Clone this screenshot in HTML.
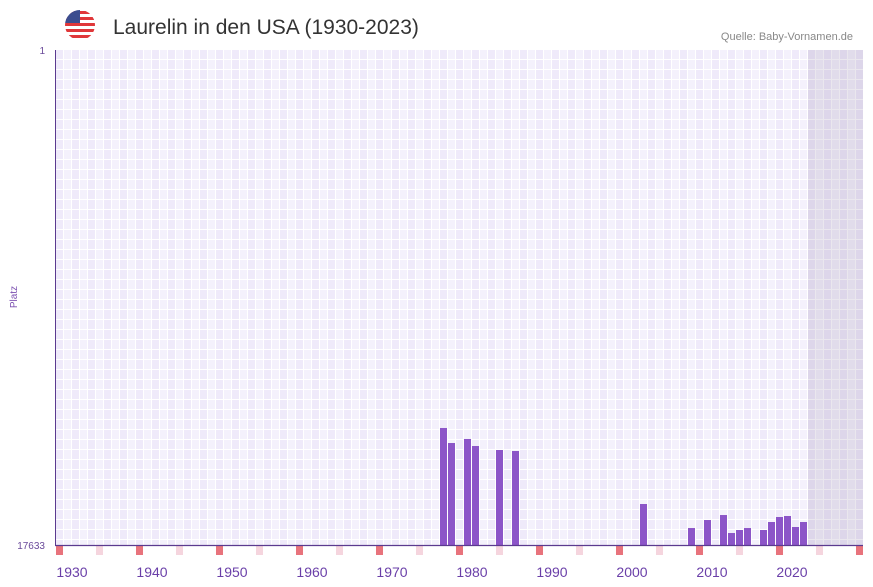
<!DOCTYPE html>
<html><head><meta charset="utf-8"><style>
body{margin:0;background:#fff;font-family:"Liberation Sans",sans-serif;}
svg{display:block}
</style></head><body>
<svg id="c" width="873" height="587">
<defs>
<pattern id="grid" x="56" y="50" width="16" height="10" patternUnits="userSpaceOnUse">
<rect width="16" height="10" fill="#fff"/>
<rect x="0" y="0" width="7" height="9" fill="#efeafa"/>
<rect x="8" y="0" width="7" height="9" fill="#f4f1fc"/>
</pattern>
</defs>
<rect x="56" y="50" width="807" height="495" fill="url(#grid)"/>
<rect x="808" y="50" width="55" height="495" fill="#a090b0" opacity="0.22"/>
<g id="bars"></g>
<g id="marks"></g>
<line x1="55.5" y1="50" x2="55.5" y2="545" stroke="#5b3a8f" stroke-width="1"/>
<line x1="55" y1="545.5" x2="863" y2="545.5" stroke="#5b3a8f" stroke-width="1.2"/>
<text x="45" y="54" font-size="10" fill="#6a4a9a" text-anchor="end">1</text>
<text x="45" y="549" font-size="10" fill="#6a4a9a" text-anchor="end">17633</text>
<text x="17" y="297" font-size="10" fill="#7b4fb0" text-anchor="middle" transform="rotate(-90 17 297)">Platz</text>
<g id="xlabels"></g>
<g>
<clipPath id="fc"><circle cx="80" cy="25" r="15"/></clipPath>
<g clip-path="url(#fc)">
<rect x="65" y="10" width="30" height="30" fill="#fff"/>
<rect x="65" y="11" width="30" height="3" fill="#e0373a"/>
<rect x="65" y="17" width="30" height="3" fill="#e0373a"/>
<rect x="65" y="23" width="30" height="3" fill="#e0373a"/>
<rect x="65" y="29" width="30" height="3" fill="#e0373a"/>
<rect x="65" y="35" width="30" height="3" fill="#e0373a"/>
<rect x="65" y="10" width="15" height="13" fill="#3c4d8f"/>
</g></g>
<text x="113" y="34" font-size="21" fill="#333">Laurelin in den USA (1930-2023)</text>
<text x="853" y="40" font-size="11" fill="#888" text-anchor="end">Quelle: Baby-Vornamen.de</text>
</svg>
<script>
const years=[1978,1979,1981,1982,1985,1987,2003,2009,2011,2013,2014,2015,2016,2018,2019,2020,2021,2022,2023];
const ranks=[13465,14000,13857,14107,14249,14285,16173,17028,16743,16565,17206,17099,17028,17099,16814,16636,16600,16992,16814];
const xTicks=[1930,1940,1950,1960,1970,1980,1990,2000,2010,2020];
const maxRank=17633;
const NS="http://www.w3.org/2000/svg";
function xs(y){return 56+(y-1930)*8;}
function ys(r){return 50+(r-1)/(maxRank-1)*495;}
const bars=document.getElementById('bars');
years.forEach((y,i)=>{
 const r=document.createElementNS(NS,'rect');
 r.setAttribute('x',xs(y));r.setAttribute('width',7);
 r.setAttribute('y',ys(ranks[i]));r.setAttribute('height',545-ys(ranks[i]));
 r.setAttribute('fill','#8c55c8');
 
 
 bars.appendChild(r);
});
const marks=document.getElementById('marks');
for(let y=1930;y<=2030;y+=5){
 const r=document.createElementNS(NS,'rect');
 r.setAttribute('x',xs(y));r.setAttribute('y',546);r.setAttribute('width',7);r.setAttribute('height',9);
 r.setAttribute('fill',y%10===0?'#e8737c':'#f5d5de');
 
 
 marks.appendChild(r);
}
const xl=document.getElementById('xlabels');
xTicks.forEach(y=>{
 const t=document.createElementNS(NS,'text');
 t.setAttribute('x',xs(y)+16);t.setAttribute('y',577);t.setAttribute('font-size',14);
 t.setAttribute('fill','#6a3fa8');t.setAttribute('text-anchor','middle');
 t.textContent=y;
 
 
 xl.appendChild(t);
});
</script>
</body></html>
